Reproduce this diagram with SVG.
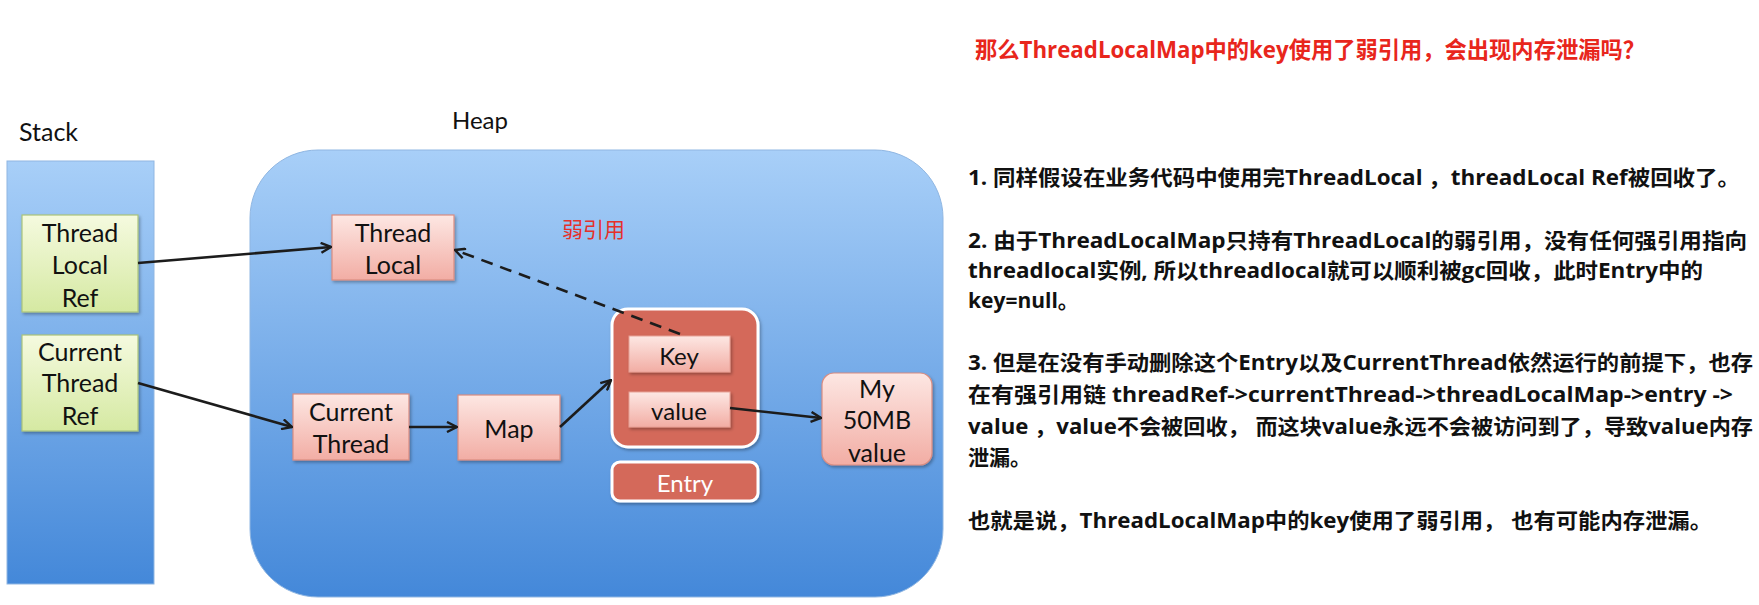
<svg xmlns="http://www.w3.org/2000/svg" width="1759" height="605" viewBox="0 0 1759 605">
<style>
.lbl{font-family:Lato,"Open Sans","Liberation Sans",sans-serif;font-size:25px;fill:#111;text-anchor:middle}
.hdr{font-family:Lato,"Open Sans","Liberation Sans",sans-serif;font-size:24px;fill:#111}
.green{fill:url(#gGreen);stroke:#aac37a;stroke-width:1.2}
.pink{fill:url(#gPink);stroke:#d98c80;stroke-width:1.2}
.conn{stroke:#1c1c1c;stroke-width:2.6;fill:none;marker-end:url(#arr)}
.body{font-family:"Open Sans","Noto Sans CJK SC",sans-serif;font-weight:bold;font-size:21px;fill:#111}
</style>
<defs>
<linearGradient id="gBlue" x1="0" y1="0" x2="0" y2="1">
<stop offset="0" stop-color="#a8cff8"/><stop offset="1" stop-color="#4488d9"/>
</linearGradient>
<linearGradient id="gGreen" x1="0" y1="0" x2="0" y2="1">
<stop offset="0" stop-color="#f5fadf"/><stop offset="1" stop-color="#d5e9a2"/>
</linearGradient>
<linearGradient id="gPink" x1="0" y1="0" x2="0" y2="1">
<stop offset="0" stop-color="#fde7e3"/><stop offset="1" stop-color="#f2ada4"/>
</linearGradient>
<filter id="sh" x="-10%" y="-10%" width="130%" height="130%">
<feDropShadow dx="1.5" dy="2" stdDeviation="1.5" flood-color="#000" flood-opacity="0.3"/>
</filter>
<marker id="arr" viewBox="0 0 12 12" refX="11" refY="6" markerWidth="12" markerHeight="12" markerUnits="userSpaceOnUse" orient="auto">
<path d="M1,1 L11,6 L1,11" fill="none" stroke="#1c1c1c" stroke-width="2.4" stroke-linejoin="miter"/>
</marker>
</defs>
<rect width="1759" height="605" fill="#ffffff"/>

<g id="stack">
<rect x="7" y="161" width="147" height="423" fill="url(#gBlue)" stroke="#8fb6e2" stroke-width="1"/>
<text class="hdr" x="19" y="141" style="font-size:25px">Stack</text>
</g>
<g id="heap">
<rect x="250" y="150" width="693" height="447" rx="68" ry="68" fill="url(#gBlue)" stroke="#8fb6e2" stroke-width="1"/>
<text class="hdr" x="452" y="129">Heap</text>
</g>

<g id="threadLocalRef">
<rect class="green" x="22" y="215" width="116" height="97" filter="url(#sh)"/>
<text class="lbl" x="80" y="242">Thread</text>
<text class="lbl" x="80" y="274">Local</text>
<text class="lbl" x="80" y="307">Ref</text>
</g>
<g id="currentThreadRef">
<rect class="green" x="22" y="335" width="116" height="96" filter="url(#sh)"/>
<text class="lbl" x="80" y="361">Current</text>
<text class="lbl" x="80" y="392">Thread</text>
<text class="lbl" x="80" y="425">Ref</text>
</g>
<g id="threadLocal">
<rect class="pink" x="332" y="215" width="122" height="65" filter="url(#sh)"/>
<text class="lbl" x="393" y="242">Thread</text>
<text class="lbl" x="393" y="274">Local</text>
</g>
<g id="currentThread">
<rect class="pink" x="293" y="394" width="116" height="66" filter="url(#sh)"/>
<text class="lbl" x="351" y="421">Current</text>
<text class="lbl" x="351" y="453">Thread</text>
</g>
<g id="map">
<rect class="pink" x="458" y="395" width="102" height="65" filter="url(#sh)"/>
<text class="lbl" x="509" y="438">Map</text>
</g>
<g id="entry">
<rect x="612" y="309" width="146" height="138" rx="16" ry="16" fill="#d4695a" stroke="#ffffff" stroke-width="3" filter="url(#sh)"/>
</g>
<g id="key">
<rect x="629" y="336" width="101" height="36" fill="url(#gPink)" stroke="#e8a196" stroke-width="1" filter="url(#sh)"/>
<text class="lbl" x="679" y="365" style="font-size:24px">Key</text>
</g>
<g id="value">
<rect x="629" y="392" width="101" height="35" fill="url(#gPink)" stroke="#e8a196" stroke-width="1" filter="url(#sh)"/>
<text class="lbl" x="679" y="420" style="font-size:24px">value</text>
</g>
<g id="entryLabel">
<rect x="612" y="462" width="146" height="39" rx="8" ry="8" fill="#d4695a" stroke="#ffffff" stroke-width="3" filter="url(#sh)"/>
<text class="lbl" x="685" y="492" style="fill:#ffffff;font-size:24px">Entry</text>
</g>
<g id="myValue">
<rect class="pink" x="822" y="373" width="110" height="92" rx="12" ry="12" filter="url(#sh)"/>
<text class="lbl" x="877" y="398">My</text>
<text class="lbl" x="877" y="429">50MB</text>
<text class="lbl" x="877" y="462">value</text>
</g>
<g id="weakLabel">
<text x="562" y="237" style="font-family:'Noto Sans CJK SC',sans-serif;font-size:21px;fill:#e5302b">弱引用</text>
</g>

<g id="connectors">
<line class="conn" x1="138" y1="263" x2="331" y2="247"/>
<line class="conn" x1="138" y1="383" x2="292" y2="427"/>
<line class="conn" x1="409" y1="427" x2="457" y2="427"/>
<line class="conn" x1="560" y1="427" x2="611" y2="380"/>
<line class="conn" x1="730" y1="408" x2="821" y2="418"/>
<line class="conn" x1="680" y1="334" x2="455" y2="250" stroke-dasharray="12,8"/>
</g>

<g id="notes">
<text x="975" y="58" textLength="670" lengthAdjust="spacingAndGlyphs" style="font-family:'Open Sans','Noto Sans CJK SC',sans-serif;font-weight:bold;font-size:23px;fill:#e8261c">那么ThreadLocalMap中的key使用了弱引用，会出现内存泄漏吗？</text>
<text class="body" x="968" y="185" textLength="772" lengthAdjust="spacingAndGlyphs">1. 同样假设在业务代码中使用完ThreadLocal ，threadLocal Ref被回收了。</text>
<text class="body" x="968" y="248" textLength="779" lengthAdjust="spacingAndGlyphs">2. 由于ThreadLocalMap只持有ThreadLocal的弱引用，没有任何强引用指向</text>
<text class="body" x="968" y="278" textLength="735" lengthAdjust="spacingAndGlyphs">threadlocal实例, 所以threadlocal就可以顺利被gc回收，此时Entry中的</text>
<text class="body" x="968" y="308">key=null。</text>
<text class="body" x="968" y="370" textLength="785" lengthAdjust="spacingAndGlyphs">3. 但是在没有手动删除这个Entry以及CurrentThread依然运行的前提下，也存</text>
<text class="body" x="968" y="402" textLength="765" lengthAdjust="spacingAndGlyphs">在有强引用链 threadRef-&gt;currentThread-&gt;threadLocalMap-&gt;entry -&gt;</text>
<text class="body" x="968" y="434" textLength="785" lengthAdjust="spacingAndGlyphs">value ，value不会被回收， 而这块value永远不会被访问到了，导致value内存</text>
<text class="body" x="968" y="465">泄漏。</text>
<text class="body" x="968" y="528" textLength="744" lengthAdjust="spacingAndGlyphs">也就是说，ThreadLocalMap中的key使用了弱引用， 也有可能内存泄漏。</text>
</g>
</svg>
